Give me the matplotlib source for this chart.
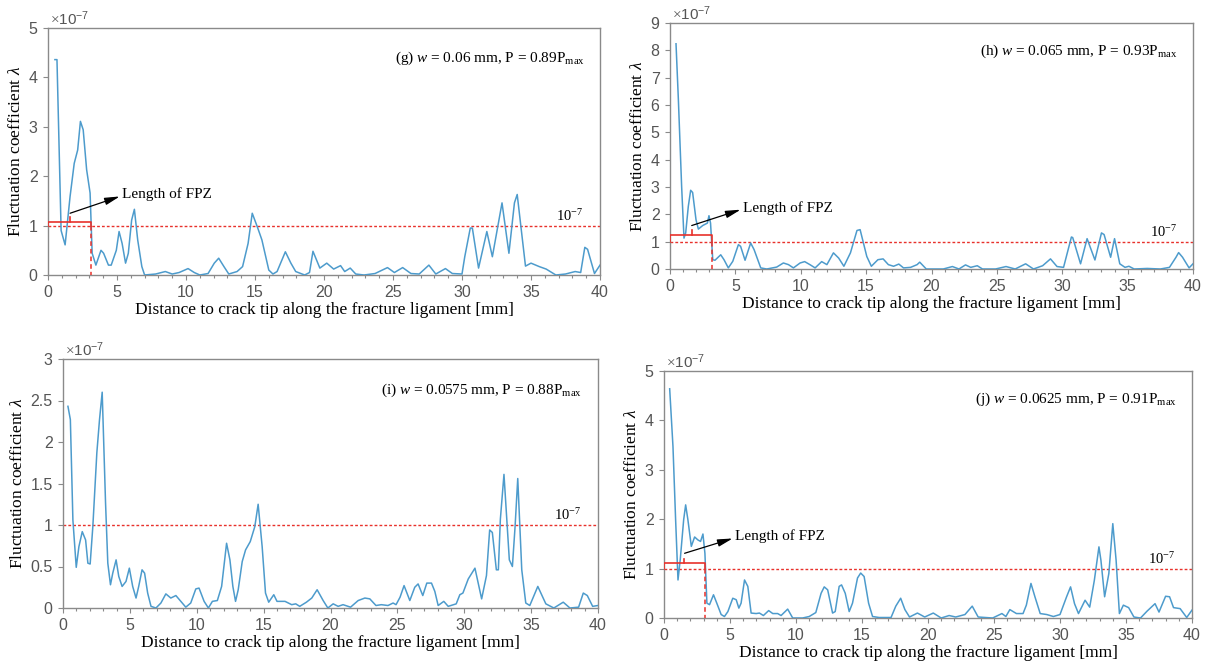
import matplotlib
matplotlib.use("Agg")
import matplotlib.pyplot as plt
from matplotlib.ticker import MultipleLocator, FuncFormatter

plt.rcParams['font.family'] = ['Liberation Serif', 'DejaVu Serif']
plt.rcParams['mathtext.fontset'] = 'custom'
plt.rcParams['mathtext.rm'] = 'Liberation Serif'
plt.rcParams['mathtext.it'] = 'Liberation Serif:italic'
plt.rcParams['mathtext.bf'] = 'Liberation Serif:bold'
plt.rcParams['mathtext.sf'] = 'Liberation Sans'

# Fluctuation coefficient (units of 1e-7) along the ligament [mm]
g_x = [0.5, 0.65, 0.95, 1.24, 1.6, 1.9, 2.15, 2.35, 2.55, 2.8, 3.05, 3.2, 3.47, 3.84, 4.03, 4.38, 4.58,
       4.95, 5.15, 5.37, 5.62, 5.82, 6.06, 6.26, 6.5, 6.8, 7.0, 7.8, 8.5, 9.0, 9.5, 10.15, 10.6, 11.0,
       11.6, 12.05, 12.37, 12.75, 13.1, 13.7, 14.1, 14.5, 14.8, 15.2, 15.5, 16.0, 16.3, 16.6, 17.2, 17.6,
       17.95, 18.6, 18.95, 19.2, 19.7, 20.2, 20.7, 21.2, 21.5, 21.9, 22.3, 22.9, 23.7, 24.6, 25.1, 25.7,
       26.3, 26.9, 27.6, 28.1, 28.8, 29.3, 30.0, 30.2, 30.6, 30.75, 31.2, 31.8, 32.2, 32.9, 33.4, 33.8,
       34.0, 34.6, 35.0, 35.6, 36.1, 36.8, 37.5, 38.2, 38.6, 38.9, 39.1, 39.6, 40.0]
g_y = [4.36, 4.36, 0.9, 0.61, 1.59, 2.26, 2.53, 3.11, 2.94, 2.13, 1.66, 0.44, 0.2, 0.5, 0.44, 0.2, 0.2,
       0.5, 0.88, 0.64, 0.24, 0.44, 1.11, 1.33, 0.71, 0.17, 0.0, 0.02, 0.07, 0.02, 0.05, 0.13, 0.05, 0.0,
       0.03, 0.24, 0.34, 0.17, 0.02, 0.07, 0.17, 0.64, 1.25, 0.95, 0.71, 0.1, 0.02, 0.07, 0.47, 0.24,
       0.07, 0.0, 0.05, 0.48, 0.14, 0.24, 0.12, 0.19, 0.07, 0.14, 0.02, 0.0, 0.03, 0.15, 0.05, 0.15,
       0.03, 0.02, 0.2, 0.02, 0.13, 0.03, 0.02, 0.37, 0.95, 0.95, 0.14, 0.88, 0.37, 1.46, 0.44, 1.46,
       1.63, 0.18, 0.24, 0.17, 0.12, 0.0, 0.02, 0.07, 0.05, 0.56, 0.52, 0.03, 0.2]

h_x = [0.46, 0.64, 0.89, 1.07, 1.2, 1.4, 1.58, 1.73, 1.99, 2.17, 2.5, 2.86, 2.98, 3.1, 3.27, 3.44, 3.88,
       4.13, 4.46, 4.8, 5.23, 5.4, 5.74, 6.17, 6.43, 6.94, 7.4, 8.16, 8.67, 9.06, 9.44, 9.95, 10.3, 10.7,
       11.1, 11.6, 12.0, 12.5, 12.9, 13.3, 13.8, 14.3, 14.54, 15.05, 15.4, 15.9, 16.3, 16.7, 17.1, 17.5,
       17.86, 18.4, 18.9, 19.1, 19.6, 20.9, 21.6, 22.1, 22.6, 23.0, 23.5, 23.9, 24.9, 25.7, 26.4, 27.2,
       27.8, 28.5, 29.1, 29.6, 30.1, 30.5, 30.7, 30.8, 31.4, 31.9, 32.5, 33.0, 33.2, 33.7, 34.0, 34.4,
       34.8, 35.1, 35.5, 36.5, 37.5, 38.2, 38.7, 38.9, 39.2, 39.7, 40.0]
h_y = [8.24, 6.2, 3.02, 1.13, 1.32, 2.29, 2.88, 2.8, 1.8, 1.46, 1.59, 1.68, 1.95, 1.68, 0.34, 0.32, 0.52,
       0.34, 0.04, 0.28, 0.89, 0.83, 0.32, 0.95, 0.71, 0.04, 0.0, 0.07, 0.22, 0.16, 0.04, 0.22, 0.27, 0.16,
       0.04, 0.27, 0.16, 0.59, 0.4, 0.1, 0.59, 1.41, 1.44, 0.46, 0.1, 0.34, 0.37, 0.16, 0.1, 0.18,
       0.04, 0.06, 0.16, 0.25, 0.0, 0.0, 0.09, 0.0, 0.15, 0.06, 0.12, 0.0, 0.0, 0.09, 0.0, 0.19,
       0.0, 0.12, 0.37, 0.09, 0.06, 0.8, 1.17, 1.15, 0.19, 1.11, 0.33, 1.32, 1.26, 0.43, 1.11, 0.19,
       0.06, 0.1, 0.0, 0.02, 0.0, 0.06, 0.43, 0.6, 0.43, 0.04, 0.19]

i_x = [0.37, 0.55, 0.74, 0.99, 1.19, 1.44, 1.69, 1.86, 2.03, 2.23, 2.53, 2.73, 2.93, 3.18, 3.35, 3.55,
       3.72, 3.97, 4.17, 4.42, 4.71, 4.96, 5.21, 5.46, 5.66, 5.91, 6.1, 6.33, 6.58, 6.95, 7.32, 7.69,
       8.06, 8.44, 8.81, 9.18, 9.55, 9.93, 10.17, 10.55, 10.87, 11.17, 11.54, 11.86, 12.23, 12.48, 12.7,
       12.9, 13.1, 13.4, 13.65, 14.0, 14.34, 14.59, 14.89, 15.14, 15.38, 15.76, 16.0, 16.6, 17.1, 17.4,
       17.7, 18.2, 18.6, 19.0, 19.45, 19.8, 20.2, 20.57, 20.94, 21.5, 22.07, 22.57, 22.94, 23.4, 23.8,
       24.3, 24.68, 24.9, 25.2, 25.5, 25.93, 26.3, 26.55, 26.9, 27.2, 27.55, 27.8, 28.05, 28.47, 28.8,
       29.4, 29.67, 29.9, 30.3, 30.8, 31.3, 31.66, 31.9, 32.1, 32.4, 32.55, 32.7, 32.97, 33.37, 33.6,
       33.8, 34.0, 34.3, 34.6, 34.9, 35.5, 36.1, 36.7, 37.4, 37.9, 38.55, 38.9, 39.2, 39.6, 40.0]
i_y = [2.43, 2.27, 1.06, 0.49, 0.74, 0.92, 0.82, 0.54, 0.53, 0.98, 1.87, 2.27, 2.6, 1.27, 0.54, 0.28,
       0.42, 0.58, 0.38, 0.26, 0.32, 0.48, 0.26, 0.12, 0.26, 0.46, 0.42, 0.18, 0.02, 0.0, 0.06, 0.17,
       0.12, 0.15, 0.08, 0.01, 0.06, 0.23, 0.24, 0.08, 0.0, 0.08, 0.09, 0.26, 0.78, 0.58, 0.26,
       0.08, 0.22, 0.56, 0.7, 0.8, 0.98, 1.25, 0.74, 0.18, 0.07, 0.16, 0.08, 0.08, 0.04, 0.05,
       0.02, 0.07, 0.12, 0.22, 0.09, 0.0, 0.05, 0.02, 0.04, 0.01, 0.09, 0.12, 0.11, 0.03, 0.04,
       0.03, 0.06, 0.04, 0.13, 0.27, 0.09, 0.25, 0.29, 0.15, 0.3, 0.3, 0.2, 0.03, 0.08, 0.02,
       0.05, 0.16, 0.18, 0.35, 0.48, 0.11, 0.39, 0.94, 0.91, 0.46, 0.46, 1.07, 1.61, 0.58, 0.5,
       0.98, 1.56, 0.46, 0.06, 0.03, 0.26, 0.05, 0.0, 0.07, 0.0, 0.01, 0.18, 0.15, 0.02, 0.03]

j_x = [0.43, 0.68, 0.88, 1.06, 1.23, 1.49, 1.64, 1.81, 2.07, 2.32, 2.57, 2.77, 2.95, 3.1, 3.25, 3.45,
       3.75, 4.0, 4.33, 4.58, 4.84, 5.21, 5.47, 5.67, 5.84, 6.1, 6.35, 6.6, 6.98, 7.23, 7.53, 7.93, 8.24,
       8.61, 8.87, 9.37, 9.75, 10.5, 11.0, 11.5, 11.9, 12.14, 12.4, 12.77, 12.97, 13.27, 13.45, 13.73,
       14.03, 14.28, 14.66, 14.9, 15.16, 15.5, 15.8, 16.3, 17.2, 17.56, 17.93, 18.25, 18.6, 19.2, 19.75,
       20.4, 21.0, 21.6, 22.1, 22.8, 23.35, 23.8, 24.9, 25.6, 25.9, 26.2, 26.7, 27.2, 27.45, 27.8, 28.1,
       28.5, 29.0, 29.5, 30.0, 30.5, 30.8, 31.1, 31.4, 31.9, 32.25, 32.6, 32.95, 33.1, 33.38, 33.7, 34.0,
       34.25, 34.5, 34.8, 35.2, 35.6, 36.1, 36.6, 37.2, 37.5, 38.0, 38.3, 38.6, 39.1, 39.6, 40.0]
j_y = [4.64, 3.47, 1.99, 0.77, 1.18, 1.99, 2.29, 1.99, 1.45, 1.64, 1.58, 1.55, 1.7, 1.31, 0.3, 0.27,
       0.47, 0.3, 0.07, 0.03, 0.13, 0.4, 0.37, 0.2, 0.3, 0.77, 0.64, 0.1, 0.09, 0.1, 0.05, 0.15, 0.09,
       0.09, 0.05, 0.18, 0.0, 0.0, 0.03, 0.11, 0.5, 0.63, 0.57, 0.1, 0.13, 0.64, 0.67, 0.5,
       0.13, 0.3, 0.81, 0.91, 0.84, 0.3, 0.03, 0.01, 0.01, 0.24, 0.4, 0.17, 0.02, 0.1, 0.02,
       0.1, 0.0, 0.05, 0.02, 0.07, 0.24, 0.02, 0.0, 0.09, 0.03, 0.17, 0.09, 0.09, 0.26, 0.7, 0.43,
       0.09, 0.07, 0.03, 0.07, 0.43, 0.63, 0.29, 0.09, 0.36, 0.22, 0.76, 1.44, 1.17, 0.43, 0.9, 1.91,
       1.17, 0.09, 0.26, 0.21, 0.02, 0.0, 0.14, 0.29, 0.12, 0.44, 0.43, 0.21, 0.19, 0.01, 0.16]

panel_titles = [r"(g) $w$ = 0.06 mm, P = 0.89P$_{\rm max}$",
                r"(h) $w$ = 0.065 mm, P = 0.93P$_{\rm max}$",
                r"(i) $w$ = 0.0575 mm, P = 0.88P$_{\rm max}$",
                r"(j) $w$ = 0.0625 mm, P = 0.91P$_{\rm max}$"]
y_max = [5, 9, 3, 5]
y_step = [1, 1, 0.5, 1]
threshold = 1.0

# FPZ bracket: [bracket level, FPZ end, tick position, tick top]
fpz_g = [1.08, 3.15, 1.6, 1.17]
fpz_h = [1.26, 3.2, 1.66, 1.44]
fpz_j = [1.11, 3.07, 1.5, 1.2]

LINE = '#4d9bcc'
RED = '#e8312b'
SPINE = '#8a8a8a'
TICK = '#555555'

W, H = 1208, 668
fig = plt.figure(figsize=(W / 100, H / 100), dpi=100)


def px_axes(l, r, t, b):
    return fig.add_axes([l / W, 1 - b / H, (r - l) / W, (b - t) / H])


axes = [px_axes(48, 600, 28, 275),
        px_axes(670, 1193, 23, 269),
        px_axes(63, 598, 359, 608),
        px_axes(664, 1192, 371, 618)]

series = [(g_x, g_y), (h_x, h_y), (i_x, i_y), (j_x, j_y)]
fpzs = [fpz_g, fpz_h, None, fpz_j]
title_pos = [(0.973, 0.878), (0.971, 0.883), (0.970, 0.876), (0.972, 0.887)]
arrow_from = [(1.6, 1.25), (1.66, 1.59), None, (1.56, 1.31)]
arrow_to = [(5.2, 1.59), (5.4, 2.17), None, (5.2, 1.61)]

for k, ax in enumerate(axes):
    xs, ys = series[k]
    ax.plot(xs, ys, color=LINE, lw=1.1, zorder=3)
    ax.axhline(threshold, color=RED, lw=1.0, ls=(0, (2.0, 1.5)), zorder=2)
    ax.set_xlim(0, 40)
    ax.set_ylim(0, y_max[k])
    ax.xaxis.set_major_locator(MultipleLocator(5))
    ax.xaxis.set_minor_locator(MultipleLocator(1))
    ax.yaxis.set_major_locator(MultipleLocator(y_step[k]))
    ax.yaxis.set_major_formatter(FuncFormatter(lambda v, p: f"{v:g}"))
    ax.xaxis.set_major_formatter(FuncFormatter(lambda v, p: f"{v:g}"))
    ax.tick_params(which='both', direction='out', colors=SPINE, labelcolor=TICK,
                   labelsize=11.5, labelfontfamily='Liberation Sans', width=0.8)
    ax.tick_params(which='major', length=3.5, pad=4)
    ax.tick_params(which='minor', length=2)
    for s in ax.spines.values():
        s.set_color(SPINE)
        s.set_linewidth(1.0)
    ax.set_xlabel("Distance to crack tip along the fracture ligament [mm]", fontsize=12.5, labelpad=1)
    ax.set_ylabel(r"Fluctuation coefficient $\mathit{\lambda}$", fontsize=12.5, labelpad=3)
    ax.text(0.003, 1.002, r"$\times\mathsf{10^{-7}}$", transform=ax.transAxes, ha='left', va='bottom',
            fontsize=11, color=TICK)
    tx, ty = title_pos[k]
    ax.text(tx, ty, panel_titles[k], transform=ax.transAxes, ha='right', va='center', fontsize=11)
    ax.text(0.969, threshold + 0.04 * y_max[k] / 5, r"10$^{\mathrm{-7}}$",
            transform=ax.get_yaxis_transform(), ha='right', va='bottom', fontsize=10.5)

    f = fpzs[k]
    if f is not None:
        lvl, xe, xm, tt = f
        ax.plot([0, 0, xe, xe], [threshold, lvl, lvl, threshold], color=RED, lw=1.2, zorder=4)
        ax.plot([xm, xm], [lvl, tt], color=RED, lw=1.2, zorder=4)
        ax.plot([xe, xe], [threshold, 0], color=RED, lw=1.1, ls=(0, (3, 2)), zorder=4)
        ax.annotate("", xy=arrow_to[k], xytext=arrow_from[k],
                    arrowprops=dict(arrowstyle='-|>,head_length=0.9,head_width=0.22', color='black',
                                    lw=0.9, shrinkA=0, shrinkB=0), zorder=5)
        ax.text(arrow_to[k][0] + 0.15, arrow_to[k][1] + 0.04, "Length of FPZ", fontsize=11,
                ha='left', va='center', zorder=5)

fig.savefig("out.png", dpi=100)
